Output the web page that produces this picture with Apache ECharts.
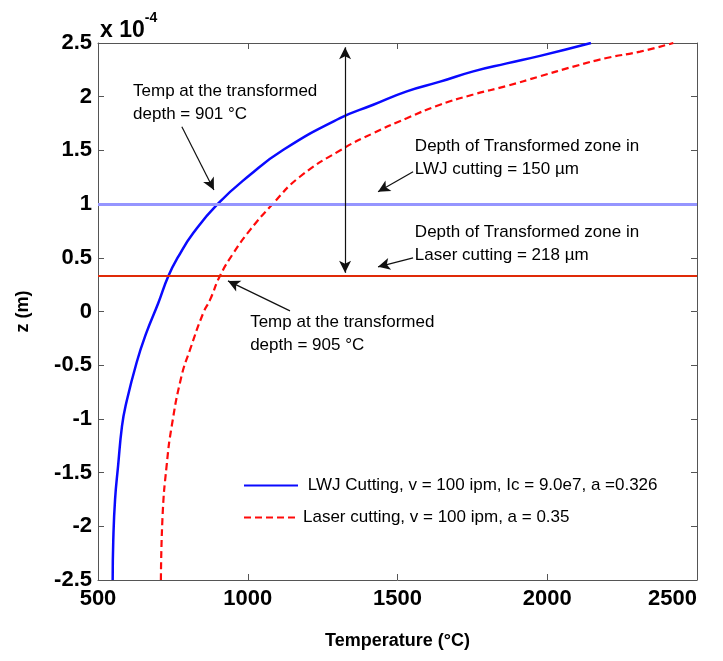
<!DOCTYPE html>
<html><head><meta charset="utf-8">
<script src="https://cdn.jsdelivr.net/npm/echarts@6/dist/echarts.min.js"></script>
<style>html,body{margin:0;padding:0;background:#fff}#c{width:723px;height:661px}</style>
</head><body><div id="c"></div>
<script>
// ---- data ----
const xMin = 500, xMax = 2500, xStep = 500;
const yMin = -2.5, yMax = 2.5, yStep = 0.5;
const lwjName = ' LWJ Cutting, v = 100 ipm, Ic = 9.0e7, a =0.326';
const laserName = 'Laser cutting, v = 100 ipm, a = 0.35';
const lwjZ = [-2.5, -2.13, -1.75, -1.44, -1.07, -0.88, -0.475, -0.195, 0.077, 0.33, 0.51, 0.73, 1.0, 1.273, 1.506, 1.80, 1.925, 2.05, 2.14, 2.236, 2.31, 2.38, 2.5];
const lwjT = [549, 551, 557, 567, 580, 592, 629, 662, 701, 735, 768, 818, 899, 1008, 1119, 1308, 1419, 1531, 1642, 1753, 1865, 1976, 2146];
const laserZ = [-2.5, -1.88, -1.44, -1.07, -0.6, -0.358, -0.01, 0.108, 0.33, 0.543, 0.76, 1.0, 1.25, 1.506, 1.66, 1.80, 1.925, 2.02, 2.10, 2.19, 2.28, 2.36, 2.42, 2.5];
const laserT = [710, 716, 729, 746, 779, 807, 852, 874, 907, 952, 1008, 1083, 1172, 1312, 1419, 1531, 1642, 1753, 1865, 1976, 2087, 2198, 2310, 2421];
const lwjDepthZ = 1.0;     // transformed depth line (LWJ)
const laserDepthZ = 0.33;  // transformed depth line (laser)
// annotation texts (data coords of top-left corner)
const noteText = [
  ['Temp at the transformed', 'depth = 901 °C'],
  ['Depth of Transformed zone in', 'LWJ cutting = 150 µm'],
  ['Depth of Transformed zone in', 'Laser cutting = 218 µm'],
  ['Temp at the transformed', 'depth = 905 °C']
];
const noteT = [617, 1558, 1558, 1008];
const noteZ = [2.16, 1.646, 0.844, 0.006];
// arrows: from -> to (data coords)
const arrowFromT = [780, 1552, 1552, 1141];
const arrowFromZ = [1.72, 1.301, 0.5, 0.006];
const arrowToT = [887, 1435, 1435, 934];
const arrowToZ = [1.132, 1.115, 0.416, 0.285];
const spanT = 1325, spanTopZ = 2.46, spanBotZ = 0.36;

const chart = echarts.init(document.getElementById('c'));
const axisCol = '#555';
const tickFont = {fontFamily: 'Liberation Sans, Arial, sans-serif', fontWeight: 'bold', fontSize: 22, color: '#000'};
const arrowLines = arrowFromT.map((t, i) => [
  {coord: [t, arrowFromZ[i]], symbol: 'none'},
  {coord: [arrowToT[i], arrowToZ[i]], symbol: 'arrow'}
]);
arrowLines.push([
  {coord: [spanT, spanTopZ], symbol: 'arrow'},
  {coord: [spanT, spanBotZ], symbol: 'arrow'}
]);

chart.setOption({
  animation: false,
  grid: {left: 98, right: 26, top: 43, bottom: 81, containLabel: false},
  legend: {
    orient: 'vertical', left: 238, top: 472, itemWidth: 54, itemHeight: 14, itemGap: 15,
    itemStyle: {opacity: 0},
    textStyle: {fontFamily: 'Liberation Sans, Arial, sans-serif', fontSize: 17, color: '#000'},
    data: [lwjName, laserName]
  },
  xAxis: [{
    type: 'value', min: xMin, max: xMax, interval: xStep,
    name: 'Temperature (°C)', nameLocation: 'middle', nameGap: 52,
    nameTextStyle: {fontFamily: 'Liberation Sans, Arial, sans-serif', fontWeight: 'bold', fontSize: 18, color: '#000'},
    axisLine: {onZero: false, lineStyle: {color: axisCol, width: 1}},
    axisTick: {inside: true, length: 6, lineStyle: {color: axisCol}},
    axisLabel: Object.assign({margin: 8, formatter: v => String(v), alignMaxLabel: 'right'}, tickFont),
    splitLine: {show: false}
  }, {
    type: 'value', min: xMin, max: xMax, interval: xStep, position: 'top',
    axisLine: {show: true, onZero: false, lineStyle: {color: axisCol, width: 1}},
    axisTick: {inside: true, length: 6, lineStyle: {color: axisCol}},
    axisLabel: {show: false}, splitLine: {show: false}
  }],
  yAxis: [{
    type: 'value', min: yMin, max: yMax, interval: yStep,
    name: 'z (m)', nameLocation: 'middle', nameGap: 66, nameRotate: 90,
    nameTextStyle: {fontFamily: 'Liberation Sans, Arial, sans-serif', fontWeight: 'bold', fontSize: 18, color: '#000'},
    axisLine: {show: true, onZero: false, lineStyle: {color: axisCol, width: 1}},
    axisTick: {show: true, inside: true, length: 6, lineStyle: {color: axisCol}},
    axisLabel: Object.assign({margin: 6}, tickFont),
    splitLine: {show: false}
  }, {
    type: 'value', min: yMin, max: yMax, interval: yStep, position: 'right',
    axisLine: {show: true, onZero: false, lineStyle: {color: axisCol, width: 1}},
    axisTick: {show: true, inside: true, length: 6, lineStyle: {color: axisCol}},
    axisLabel: {show: false}, splitLine: {show: false}
  }],
  series: [{
    name: lwjName, type: 'line', showSymbol: false, symbol: 'none', smooth: 0.5,
    lineStyle: {color: '#0a0aff', width: 2.5}, itemStyle: {color: '#0a0aff'},
    data: lwjT.map((t, i) => [t, lwjZ[i]]), z: 4
  }, {
    name: laserName, type: 'line', showSymbol: false, symbol: 'none', smooth: 0.5,
    lineStyle: {color: '#ff0a0a', width: 2.2, type: [7, 4]}, itemStyle: {color: '#ff0a0a'},
    data: laserT.map((t, i) => [t, laserZ[i]]), z: 4
  }, {
    type: 'line', data: [], silent: true, z: 2,
    markLine: {
      silent: true, symbol: 'none', animation: false, label: {show: false},
      data: [
        {yAxis: lwjDepthZ, lineStyle: {color: '#9595ff', width: 3, type: 'solid'}},
        {yAxis: laserDepthZ, lineStyle: {color: '#e02a08', width: 2.2, type: 'solid'}}
      ]
    }
  }, {
    type: 'line', data: [], silent: true, z: 5,
    markLine: {
      silent: true, animation: false, label: {show: false}, symbolSize: [9, 12],
      lineStyle: {color: '#111', width: 1.2, type: 'solid'},
      data: arrowLines
    }
  }]
});

const graphics = noteText.map((lines, i) => {
  const p = chart.convertToPixel({xAxisIndex: 0, yAxisIndex: 0}, [noteT[i], noteZ[i]]);
  return {
    type: 'text', left: p[0], top: p[1], z: 10,
    style: {text: lines.join('\n'), fill: '#000', font: '17px "Liberation Sans", Arial, sans-serif', lineHeight: 23}
  };
});
const corner = chart.convertToPixel({xAxisIndex: 0, yAxisIndex: 0}, [xMin, yMax]);
graphics.push({
  type: 'text', left: corner[0] + 2, top: corner[1] - 32, z: 10,
  style: {
    text: '{a|x 10}{b|-4}',
    rich: {
      a: {font: 'bold 23px "Liberation Sans", Arial, sans-serif', fill: '#000', verticalAlign: 'bottom', padding: [8, 0, 0, 0]},
      b: {font: 'bold 14px "Liberation Sans", Arial, sans-serif', fill: '#000', verticalAlign: 'top'}
    }
  }
});
chart.setOption({graphic: graphics});
</script></body></html>
